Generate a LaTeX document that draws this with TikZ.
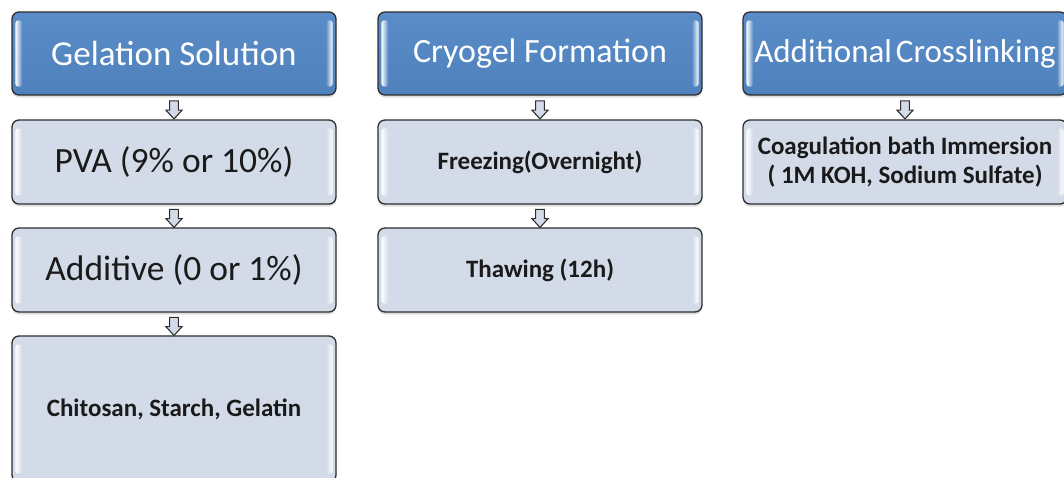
\documentclass[tikz,border=0pt]{standalone}
\usepackage{fontspec}
\setmainfont{Carlito}
\usetikzlibrary{shapes.arrows,shadows,fadings}
\definecolor{hdrblue}{HTML}{4F81BD}
\definecolor{hdrtop}{HTML}{5A8CC8}
\definecolor{paleblue}{HTML}{D3DBE8}
\definecolor{edge}{HTML}{2E2E2E}
\definecolor{ink}{HTML}{1A1A1A}
\tikzset{
  box/.style={draw=edge, line width=1.3pt, rounded corners=7pt,
    minimum width=324pt, inner sep=0pt, align=center,
    drop shadow={opacity=0.25, shadow xshift=0pt, shadow yshift=-2.5pt}},
  hdrbox/.style={box, minimum height=83pt, top color=hdrtop, bottom color=hdrblue,
    text=white, font=\fontsize{35}{40}\selectfont},
  itembox/.style={box, minimum height=84pt, fill=paleblue, text=ink},
  bigtext/.style={font=\fontsize{35.5}{40}\selectfont},
  boldtext/.style={font=\fontsize{25}{28.5}\selectfont\bfseries},
  downarrow/.style={single arrow, shape border rotate=270, draw=edge, line width=1.1pt,
    fill=paleblue, minimum height=18pt, minimum width=16pt, inner sep=3.8pt,
    single arrow head extend=3.5pt, single arrow tip angle=85}
}
% soft glossy highlight along both short sides of a box
\newcommand\glossbox[1]{%
  \fill[white, path fading=east, rounded corners=3pt] ([xshift=4pt,yshift=-9pt]#1.north west) rectangle ([xshift=11pt,yshift=9pt]#1.south west);
  \fill[white, path fading=west, rounded corners=3pt] ([xshift=-4pt,yshift=-9pt]#1.north east) rectangle ([xshift=-11pt,yshift=9pt]#1.south east);}
\begin{document}
\begin{tikzpicture}[x=1pt,y=1pt]
\useasboundingbox (0,0) rectangle (1064,-477);
\fill[white] (0,0) rectangle (1064,-477);
\clip (0,0) rectangle (1064,-477);

% column 1: gelation solution
\node[hdrbox] (g0) at (174,-53.5) {Gelation Solution};
\node[itembox, bigtext] (g1) at (174,-162) {PVA (9\% or 10\%)};
\node[itembox, bigtext] (g2) at (174,-270) {Additive (0 or 1\%)};
\node[itembox, boldtext, minimum height=146pt] (g3) at (174,-409) {Chitosan, Starch, Gelatin};

% column 2: cryogel formation
\node[hdrbox, font=\fontsize{34}{40}\selectfont] (c0) at (540,-53.5) {Cryogel Formation};
\node[itembox, boldtext] (c1) at (540,-162) {Freezing(Overnight)};
\node[itembox, boldtext] (c2) at (540,-270) {Thawing (12h)};

% column 3: additional crosslinking
\node[hdrbox, font=\fontsize{33}{40}\selectfont] (a0) at (905,-53.5) {Additional\hspace{0.12em}Crosslinking};
\node[itembox, boldtext] (a1) at (905,-162) {Coagulation bath Immersion\\( 1M KOH, Sodium Sulfate)};

\foreach \n in {g0,g1,g2,g3,c0,c1,c2,a0,a1}{\glossbox{\n}}

% step arrows between boxes
\foreach \a/\b in {g0/g1,g1/g2,g2/g3,c0/c1,c1/c2,a0/a1}{
  \path (\a.south) -- (\b.north) node[midway, downarrow] {};
}
\end{tikzpicture}
\end{document}
